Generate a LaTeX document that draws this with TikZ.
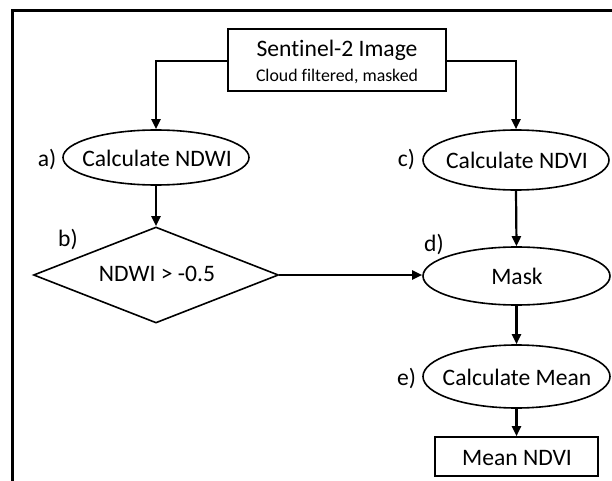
\documentclass[tikz,border=0pt]{standalone}
\usepackage{fontspec}
\setmainfont{Carlito}[Ligatures=NoCommon]
\usetikzlibrary{shapes.geometric,arrows.meta}
\begin{document}
\begin{tikzpicture}[x=1pt,y=-1pt,
  shapeline/.style={draw=black,line width=1.6pt,inner sep=0pt},
  oval/.style={shapeline,ellipse},
  boxnode/.style={shapeline,rectangle},
  decision/.style={shapeline,diamond},
  txt/.style={font=\fontsize{23.6}{28}\selectfont,inner sep=0pt,anchor=base},
  small/.style={font=\fontsize{17.8}{21}\selectfont,inner sep=0pt,anchor=base},
  conn/.style={line width=2.2pt,-{Triangle[length=10pt,width=9pt]}}]
\useasboundingbox (0,0) rectangle (612,481);
\clip (0,0) rectangle (612,481);
% outer frame (cropped)
\draw[line width=2.2pt] (12.5,490) -- (12.5,10.5) -- (620,10.5);
% shapes
\node[boxnode,minimum width=218pt,minimum height=62pt] (img) at (337,60) {};
\node[txt] (imgT) at (337,57) {Sentinel-2 Image};
\node[small] (imgS) at (337,81.5) {Cloud filtered, masked};
\node[oval,minimum width=186pt,minimum height=55pt] (ndwi) at (156,157.5) {};
\node[txt] (ndwiT) at (157,167) {Calculate NDWI};
\node[oval,minimum width=186pt,minimum height=60pt] (ndvi) at (516,160) {};
\node[txt] (ndviT) at (517,168.5) {Calculate NDVI};
\node[decision,minimum width=245pt,minimum height=96pt] (dec) at (156,275) {};
\node[txt] (decT) at (157,281) {NDWI > -0.5};
\node[oval,minimum width=187pt,minimum height=58pt] (mask) at (516.5,276) {};
\node[txt] (maskT) at (517,284) {Mask};
\node[oval,minimum width=187pt,minimum height=63pt] (mean) at (516.5,376.5) {};
\node[txt] (meanT) at (517,385) {Calculate Mean};
\node[boxnode,minimum width=163pt,minimum height=39pt] (out) at (516.5,456.5) {};
\node[txt] (outT) at (517,465) {Mean NDVI};
% step labels
\node[txt] (la) at (47,167) {a)};
\node[txt] (lb) at (68,246) {b)};
\node[txt] (lc) at (406.5,167) {c)};
\node[txt] (ld) at (434,251) {d)};
\node[txt] (le) at (406.5,385) {e)};
% connectors
\draw[conn] (img.west |- 0,61) -| (ndwi.north);
\draw[conn] (img.east |- 0,61) -| (ndvi.north);
\draw[conn] (ndwi.south) -- (dec.north);
\draw[conn] (dec.east) -- (mask.west |- dec.east);
\draw[conn] (ndvi.south) -- (mask.north);
\draw[conn] (mask.south) -- (mean.north);
\draw[conn] (mean.south) -- (out.north);
\end{tikzpicture}
\end{document}
